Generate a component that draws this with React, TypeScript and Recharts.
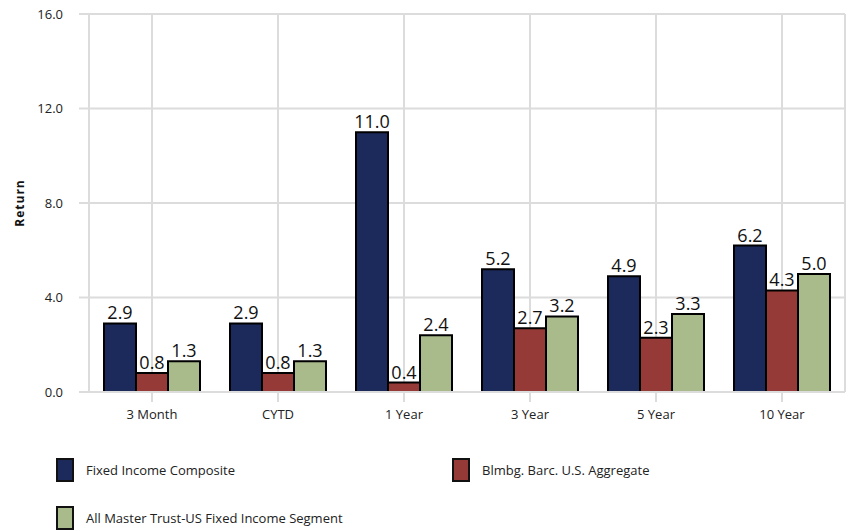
import React from 'react';
import { BarChart, Bar, XAxis, YAxis, CartesianGrid, LabelList } from 'recharts';

const categories = ['3 Month', 'CYTD', '1 Year', '3 Year', '5 Year', '10 Year'];
const composite = [2.9, 2.9, 11.0, 5.2, 4.9, 6.2];
const aggregate = [0.8, 0.8, 0.4, 2.7, 2.3, 4.3];
const segment = [1.3, 1.3, 2.4, 3.2, 3.3, 5.0];
const yTicks = [0, 4, 8, 12, 16];

const series = [
  { key: 'composite', name: 'Fixed Income Composite', color: '#1b2a5a' },
  { key: 'aggregate', name: 'Blmbg. Barc. U.S. Aggregate', color: '#963a37' },
  { key: 'segment', name: 'All Master Trust-US Fixed Income Segment', color: '#a9ba8b' },
];

const data = categories.map((name, i) => ({
  name,
  composite: composite[i],
  aggregate: aggregate[i],
  segment: segment[i],
}));

const font = '"Open Sans", sans-serif';
const grid = '#dcdcdc';

const LegendItem: React.FC<{ color: string; label: string; left: number; top: number }> = ({ color, label, left, top }) => (
  <div style={{ position: 'absolute', left, top, display: 'flex', alignItems: 'center' }}>
    <div style={{ width: 14, height: 20, background: color, border: '2px solid #111' }} />
    <span style={{ marginLeft: 12, fontSize: 13, color: '#222', fontFamily: font }}>{label}</span>
  </div>
);

const App: React.FC = () => {
  return (
    <div style={{ position: 'absolute', left: 0, top: 0, width: 855, height: 531, background: '#fff', fontFamily: font }}>
      <BarChart
        width={855}
        height={440}
        data={data}
        margin={{ top: 14, right: 10, bottom: 8, left: 0 }}
        barCategoryGap={15}
        barGap={0}
      >
        <CartesianGrid stroke={grid} strokeWidth={2} />
        <XAxis
          dataKey="name"
          height={40}
          tickSize={10}
          tickMargin={8}
          axisLine={{ stroke: grid, strokeWidth: 2 }}
          tickLine={{ stroke: grid, strokeWidth: 2 }}
          tick={{ fill: '#222', fontSize: 13, fontFamily: font }}
        />
        <YAxis
          width={89}
          domain={[0, 16]}
          ticks={yTicks}
          tickFormatter={(v: number) => v.toFixed(1)}
          tickSize={10}
          tickMargin={16}
          axisLine={{ stroke: grid, strokeWidth: 2 }}
          tickLine={{ stroke: grid, strokeWidth: 2 }}
          tick={{ fill: '#222', fontSize: 13, fontFamily: font }}
          label={{
            value: 'Return',
            angle: -90,
            position: 'insideLeft',
            offset: 20,
            style: { fontSize: 12, fontWeight: 'bold', fill: '#111', fontFamily: font, textAnchor: 'middle', letterSpacing: 1 },
          }}
        />
        {series.map((s) => (
          <Bar key={s.key} dataKey={s.key} name={s.name} fill={s.color} stroke="#000" strokeWidth={2} isAnimationActive={false}>
            <LabelList
              dataKey={s.key}
              position="top"
              offset={4}
              formatter={(v: number) => v.toFixed(1)}
              style={{ fontSize: 18, fill: '#111', fontFamily: font }}
            />
          </Bar>
        ))}
      </BarChart>
      <LegendItem color={series[0].color} label={series[0].name} left={56} top={458} />
      <LegendItem color={series[1].color} label={series[1].name} left={452} top={458} />
      <LegendItem color={series[2].color} label={series[2].name} left={56} top={506} />
    </div>
  );
};

export default App;
